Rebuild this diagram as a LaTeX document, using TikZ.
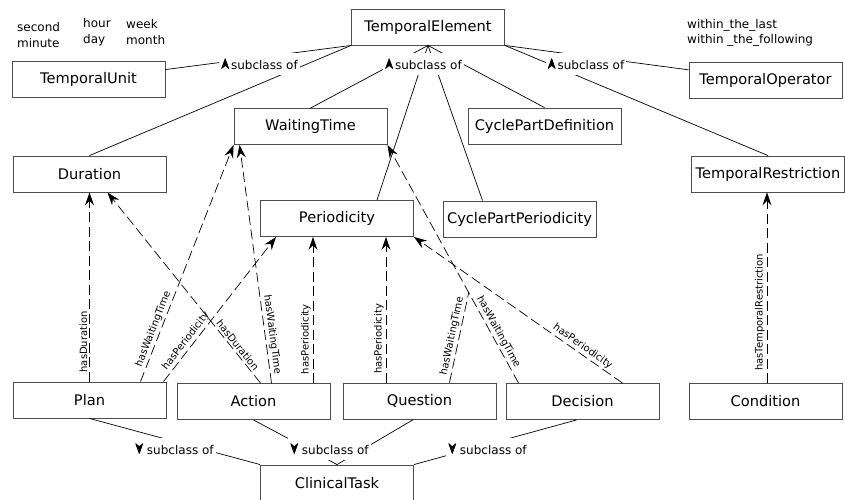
\documentclass[tikz,border=0pt]{standalone}
\usepackage{fontspec}
\setmainfont{DejaVu Sans}
\usetikzlibrary{positioning}
\usetikzlibrary{calc}
\usetikzlibrary{arrows.meta}

\newcommand{\subup}{\tikz[baseline=-1pt]\filldraw[black,line width=0.6pt,line join=round] (0,10pt) -- (-3.6pt,0) -- (0,3pt) -- (3.6pt,0) -- cycle;}
\newcommand{\subdown}{\tikz[baseline=-1pt]\filldraw[black,line width=0.6pt,line join=round] (0,0) -- (-3.6pt,10pt) -- (0,7pt) -- (3.6pt,10pt) -- cycle;}

\tikzset{
cls/.style={draw=black!70,line width=0.9pt,minimum width=153pt,minimum height=36pt,inner sep=0pt,font=\fontsize{14.6}{17}\selectfont},
note/.style={anchor=west,inner sep=0pt,align=left,font=\fontsize{12}{15.5}\selectfont},
isa/.style={line width=0.7pt},
isalbl/.style={fill=white,inner xsep=2pt,inner ysep=5pt,font=\fontsize{12}{14}\selectfont},
prop/.style={line width=0.7pt,dash pattern=on 10pt off 4.5pt,-{Stealth[length=13pt,width=9pt,inset=4.5pt]}},
plbl/.style={sloped,above,inner sep=2pt,font=\fontsize{10}{12}\selectfont}
}

\begin{document}
\begin{tikzpicture}[x=1pt,y=-1pt]
\useasboundingbox (0,0) rectangle (845,499);

% classes
\node[cls](te) at (428,27){TemporalElement};
\node[cls](tunit) at (88.5,79.5){TemporalUnit};
\node[cls](toper) at (765.5,80){TemporalOperator};
\node[cls](wt) at (310.5,126.5){WaitingTime};
\node[cls](cpdef) at (544.5,126){CyclePartDefinition};
\node[cls](dur) at (89.5,174){Duration};
\node[cls](trestr) at (768,174){TemporalRestriction};
\node[cls](per) at (337,218.5){Periodicity};
\node[cls](cpper) at (519.5,219){CyclePartPeriodicity};
\node[cls](plan) at (89.5,400){Plan};
\node[cls](action) at (253.5,401.5){Action};
\node[cls](question) at (419.5,401){Question};
\node[cls](dec) at (582.5,401.5){Decision};
\node[cls](cond) at (765.5,401.5){Condition};
\node[cls](ct) at (337,483){ClinicalTask};

% values
\node[note](secmin) at (17,35){second\\minute};
\node[note](hourday) at (83,32){hour\\day};
\node[note](weekmonth) at (126,32){week\\month};
\node[note](within) at (687,33){within\_the\_last\\within \_the\_following};

% subclass lines
\path[isa]
(tunit) edge (te.south west)
(dur.north) edge (te.south west)
(wt.north) edge (te.south)
([xshift=40]per.north) edge (te.south)
([xshift=-37]cpper.north) edge (te.south)
(cpdef.north) edge (te.south)
(toper) edge (te.south east)
(trestr.north) edge (te.south east)
(plan.south) edge (ct.north west)
(action.south) edge (ct.north)
([xshift=-6]question.south) edge (ct.north)
([xshift=-6]dec.south) edge (ct.north east);

\node[isalbl](scA) at (259.5,64){\subup\,subclass of};
\node[isalbl](scB) at (423.5,64){\subup\,subclass of};
\node[isalbl](scC) at (586,64){\subup\,subclass of};
\node[isalbl](scD) at (174.5,449){\subdown\ subclass of};
\node[isalbl](scE) at (329.5,449){\subdown\ subclass of};
\node[isalbl](scF) at (487.5,449){\subdown\ subclass of};

% properties
\coordinate (qbend) at ($([xshift=-64]dec.north)!0.38!(wt.south east)$);

\path
(plan.north) edge[prop] node[plbl,pos=0.21]{hasDuration} (dur.south)
([xshift=51]plan.north) edge[prop] node[plbl,pos=0.21]{hasWaitingTime} ([xshift=0]wt.south west)
([xshift=74]plan.north) edge[prop] node[plbl,pos=0.25]{hasPeriodicity} ([xshift=16]per.south west)
([xshift=7]action.north) edge[prop] node[plbl,pos=0.18]{hasDuration} ([xshift=18]dur.south)
([xshift=18]action.north) edge[prop] node[plbl,pos=0.2]{hasWaitingTime} ([xshift=6]wt.south west)
([xshift=59.5]action.north) edge[prop] node[plbl,pos=0.3]{hasPeriodicity} ([xshift=-24]per.south)
([xshift=-33.5]question.north) edge[prop] node[plbl,pos=0.3]{hasPeriodicity} ([xshift=49]per.south)
([xshift=-64]dec.north) edge[prop] node[plbl,pos=0.2]{hasWaitingTime} (wt.south east)
([xshift=40]dec.north) edge[prop] node[plbl,pos=0.21]{hasPeriodicity} (per.south east)
([xshift=1.5]cond.north) edge[prop] node[plbl,pos=0.37]{hasTemporalRestriction} ([xshift=-1]trestr.south);

\draw[isa,dash pattern=on 10pt off 4.5pt] ([xshift=30]question.north) -- node[plbl,pos=0.5]{hasWaitingTime} (qbend);
\end{tikzpicture}
\end{document}
